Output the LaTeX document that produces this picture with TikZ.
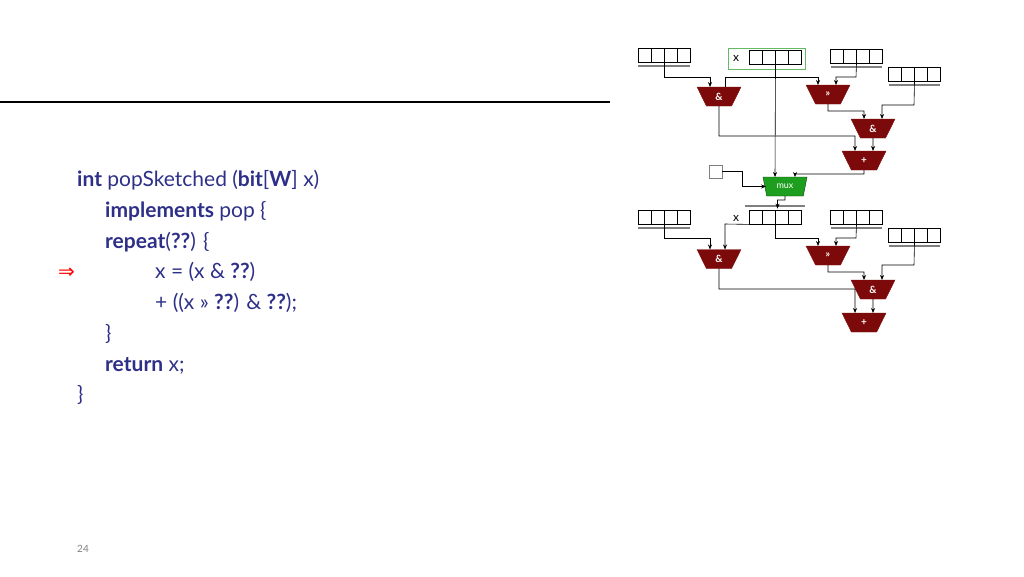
\documentclass[tikz,border=0pt]{standalone}
\usepackage{fontspec}
\setmainfont{Lato}
\newfontfamily\dejavu{DejaVu Sans}
\usetikzlibrary{shapes.geometric,arrows.meta,calc}
\definecolor{codeblue}{HTML}{2E3088}
\definecolor{gatered}{HTML}{7D0A0A}
\definecolor{muxgreen}{HTML}{1E9E1E}
\tikzset{
  regbox/.style={draw, line width=0.8pt, minimum width=52pt, minimum height=14pt, inner sep=0pt,
    path picture={\foreach \i in {1,2,3}{\draw[line width=0.8pt] ($(path picture bounding box.west)+(13*\i,-8)$) -- ++(0,16);}}},
  uline/.style={gray, line width=1.6pt},
  gate/.style={trapezium, shape border rotate=180, trapezium stretches=true, minimum width=44pt, minimum height=19pt,
    trapezium left angle=70, trapezium right angle=70, fill=gatered, draw=gatered, text=white, inner sep=0pt,
    font=\fontsize{10}{10}\selectfont\bfseries},
  muxg/.style={gate, fill=muxgreen, draw=black!60!muxgreen, font=\fontsize{9}{9}\selectfont},
  wire/.style={line width=0.6pt},
  arr/.style={wire, -{Stealth[length=5pt,width=4pt]}},
  code/.style={anchor=base west, text=codeblue, font=\fontsize{21}{25}\selectfont, inner sep=0pt}
}
\begin{document}
\begin{tikzpicture}[x=1pt,y=-1pt]
\useasboundingbox (0,0) rectangle (1024,576);
% title rule
\draw[line width=2.5pt] (0,102) coordinate (ruleA) -- (610,102) coordinate (ruleB);
% code
\node[code] (l1) at (77,186) {\textbf{int} popSketched (\textbf{bit}[\textbf{W}] x)};
\node[code] (l2) at (105,217) {\textbf{implements} pop \{};
\node[code] (l3) at (105,248) {\textbf{repeat}(\textbf{??}) \{};
\node[code] (l4) at (155,278) {x = (x \& \textbf{??})};
\node[code] (l5) at (155,309) {+ ((x >> \textbf{??}) \& \textbf{??});};
\node[code] (l6) at (105,340) {\}};
\node[code] (l7) at (105,371) {\textbf{return} x;};
\node[code] (l8) at (77,401) {\}};
\node[anchor=base west, text=red, inner sep=0pt, font=\dejavu\fontsize{20}{20}\selectfont] (arrowmark) at (58,278) {⇒};
\node[anchor=base west, text=gray, inner sep=0pt, font=\fontsize{10}{10}\selectfont] (pagenum) at (77,552) {24};

% ===== top stage =====
\node[regbox] (r1) at (664,55) {};
\draw[uline] (638,66) -- (690,66);
\node[draw=green!55!black!60, line width=0.8pt, minimum width=77pt, minimum height=21pt, inner sep=0pt] (xbox) at (766.5,58.5) {};
\node[font=\fontsize{12}{12}\selectfont, inner sep=0pt] (xl1) at (736,58) {x};
\node[regbox] (rx) at (775.5,57) {};
\node[regbox] (r3) at (856.5,56) {};
\draw[uline] (831,67) -- (882,67);
\node[regbox] (r4) at (914.5,74) {};
\draw[uline] (889,85) -- (940,85);

\node[gate] (a1) at (719,96.5) {\&};
\node[gate] (s1) at (828,94.5) {>>};
\node[gate] (a2) at (873,128.5) {\&};
\node[gate] (p1) at (864,160.5) {+};
\node[muxg] (mux) at (785,186.5) {mux};
\node[draw=gray, line width=0.8pt, minimum size=13pt, inner sep=0pt] (sel) at (715.5,171.5) {};

\draw[arr] (r1.south) -- (664,77) -| ($(a1.center)+(-9,-9.5)$);
\draw[arr] ($(a1.center)+(6,-9.5)$) -- ++(0,-10) -| ($(s1.center)+(-10,-9.5)$);
\draw[arr] (rx.south) -- ($(mux.center)+(-10,-9.5)$);
\draw[arr] (r3.south) -- (856,77) -| ($(s1.center)+(8,-9.5)$);
\draw[arr] (s1.south) -- (828,111) -| ($(a2.center)+(-9,-9.5)$);
\draw[arr] (r4.south) -- (914,105) -| ($(a2.center)+(9,-9.5)$);
\draw[arr] (a1.south) -- (719,136) -| ($(p1.center)+(-9,-9.5)$);
\draw[arr] (a2.south) -- ($(p1.center)+(9,-9.5)$);
\draw[arr] (p1.south) -- (864,174) -| ($(mux.center)+(10,-9.5)$);
\draw[arr] (sel.east) -- (742,171.5) |- ($(mux.center)+(-19,0)$);

% ===== bottom stage =====
\node[regbox] (q1) at (664,217) {};
\draw[uline] (638,228) -- (690,228);
\node[font=\fontsize{12}{12}\selectfont, inner sep=0pt] (xl2) at (736,218) {x};
\draw[uline] (745,206) -- (805,206);
\node[regbox] (qx) at (775.5,217) {};
\node[regbox] (q3) at (856.5,217) {};
\draw[uline] (831,228) -- (882,228);
\node[regbox] (q4) at (914.5,235) {};
\draw[uline] (889,246) -- (940,246);

\draw[arr] (mux.south) -- (785,200) -| ($(qx.north)+(2,-1)$);

\node[gate] (b1) at (719,259) {\&};
\node[gate] (t1) at (828,255.5) {>>};
\node[gate] (b2) at (873,289.5) {\&};
\node[gate] (p2) at (864,322.5) {+};

\draw[arr] (q1.south) -- (664,238) -| ($(b1.center)+(-9,-9.5)$);
\draw[arr] (qx.south west) -- (725,224) -- ($(b1.center)+(6,-9.5)$);
\draw[arr] (qx.south) -- (775.5,238) -| ($(t1.center)+(-10,-9.5)$);
\draw[arr] (q3.south) -- (856,238) -| ($(t1.center)+(8,-9.5)$);
\draw[arr] (t1.south) -- (828,272) -| ($(b2.center)+(-9,-9.5)$);
\draw[arr] (q4.south) -- (914,265) -| ($(b2.center)+(9,-9.5)$);
\draw[arr] (b1.south) -- (719,289) -| ($(p2.center)+(-9,-9.5)$);
\draw[arr] (b2.south) -- ($(p2.center)+(9,-9.5)$);
\end{tikzpicture}
\end{document}
